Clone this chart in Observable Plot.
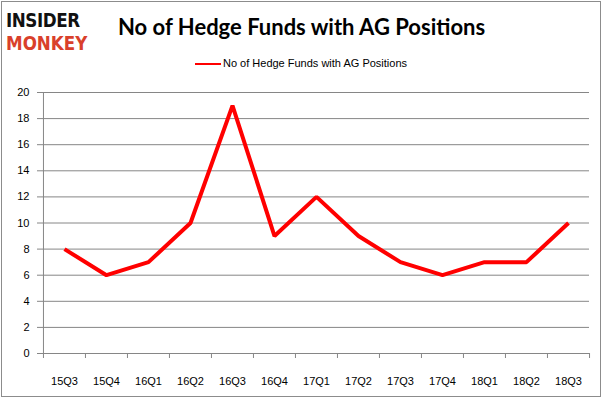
<!DOCTYPE html>
<html><head><meta charset="utf-8">
<script src="https://cdn.jsdelivr.net/npm/d3@7"></script>
<script src="https://cdn.jsdelivr.net/npm/@observablehq/plot@0.6"></script>
<style>
body{margin:0;background:#fff;}
#frame{position:relative;width:598px;height:394px;border:1px solid #8c8c8c;margin:1px;overflow:hidden;background:#fff;}
.logo{position:absolute;left:4px;font-family:"DejaVu Sans",sans-serif;font-weight:bold;font-size:19px;line-height:19px;height:19px;transform:scaleX(0.88);transform-origin:0 0;white-space:nowrap;}
#l1{top:9px;color:#111;letter-spacing:-0.5px;}
#l2{top:32px;color:#d9402b;}
#title{position:absolute;left:116px;top:11px;font-family:"Lato",sans-serif;font-weight:bold;font-size:22px;color:#000;}
#legend{position:absolute;left:0;width:598px;top:55px;text-align:center;font-family:"Liberation Sans",sans-serif;font-size:11px;color:#000;}
#legend span.sw{display:inline-block;width:26px;height:2px;background:#ff0000;vertical-align:middle;margin-right:2px;}
#chart{position:absolute;left:0;top:79px;}
</style></head>
<body>
<div id="frame">
  <div class="logo" id="l1">INSIDER</div>
  <div class="logo" id="l2">MONKEY</div>
  <div id="title">No of Hedge Funds with AG Positions</div>
  <div id="legend"><span class="sw"></span>No of Hedge Funds with AG Positions</div>
  <div id="chart"></div>
</div>
<script>
const quarters = ["15Q3","15Q4","16Q1","16Q2","16Q3","16Q4","17Q1","17Q2","17Q3","17Q4","18Q1","18Q2","18Q3"];
const funds = [8,6,7,10,19,9,12,9,7,6,7,7,10];
const yTicks = [0,2,4,6,8,10,12,14,16,18,20];

const data = quarters.map((q,i)=>({q, v: funds[i]}));
const W = 598, H = 316, mL = 40, mR = 11, mT = 11, mB = 44;
const step = (W - mL - mR) / quarters.length;
const gray = "#868686";

const chart = Plot.plot({
  width: W, height: H,
  marginLeft: mL, marginRight: mR, marginTop: mT, marginBottom: mB,
  style: {fontFamily: "Liberation Sans, sans-serif", fontSize: "11px", color: "#000", background: "#fff"},
  x: {type: "point", domain: quarters, padding: 0.5, align: 0.5, axis: null},
  y: {domain: [0, 20], axis: null},
  marks: [
    Plot.ruleY(yTicks.filter(d => d > 0), {stroke: gray, strokeWidth: 1}),
    Plot.ruleY([0], {stroke: gray, strokeWidth: 1}),
    Plot.axisY(yTicks, {tickSize: 5, tickPadding: 8, stroke: gray, color: "#000", fill: "#000", label: null, fontSize: 11}),
    Plot.ruleX([quarters[0]], {y1: 0, y2: 20, stroke: gray, dx: -step/2}),
    Plot.axisX(quarters, {tickSize: 5, tickFormat: null, stroke: gray, dx: -step/2, label: null}),
    Plot.axisX([quarters[quarters.length-1]], {tickSize: 5, tickFormat: null, stroke: gray, dx: step/2, label: null}),
    Plot.axisX(quarters, {tickSize: 0, tickPadding: 24, label: null, fill: "#000", fontSize: 11}),
    Plot.line(data, {x: "q", y: "v", stroke: "#ff0000", strokeWidth: 4, strokeLinejoin: "miter", strokeLinecap: "butt"})
  ]
});
document.getElementById("chart").appendChild(chart);
</script>
</body></html>
